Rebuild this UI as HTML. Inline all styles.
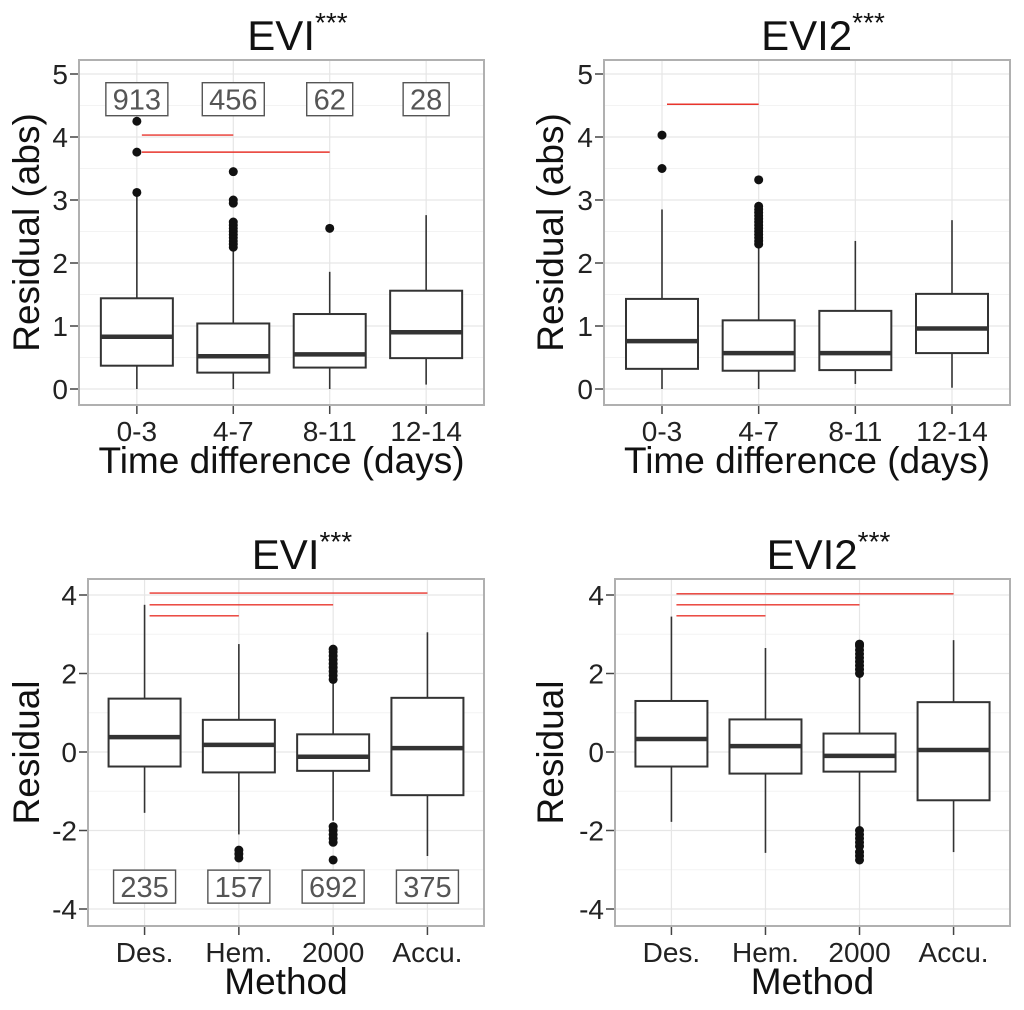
<!DOCTYPE html>
<html><head><meta charset="utf-8"><style>
html,body{margin:0;padding:0;background:#fff}
svg{display:block;font-family:"Liberation Sans",Arial,sans-serif}
</style></head><body>
<svg id="chart" width="1024" height="1010" viewBox="0 0 1024 1010" xmlns="http://www.w3.org/2000/svg"></svg>
<script>
// ---- data ----
const timeCats = ["0-3","4-7","8-11","12-14"];
const methodCats = ["Des.","Hem.","2000","Accu."];
// [low whisker, q1, median, q3, high whisker]
const tlStats = [[0,0.37,0.83,1.44,3.1],[0,0.26,0.52,1.04,2.2],[0,0.34,0.55,1.19,1.86],[0.07,0.49,0.9,1.56,2.76]];
const tlOut = [[3.12,3.76,4.25],[2.25,2.3,2.35,2.4,2.45,2.5,2.55,2.6,2.65,2.95,3.0,3.45],[2.55],[]];
const tlCounts = ["913","456","62","28"];
const trStats = [[0,0.32,0.76,1.43,2.85],[0,0.29,0.57,1.09,2.28],[0.08,0.3,0.57,1.24,2.35],[0.02,0.57,0.96,1.51,2.68]];
const trOut = [[3.5,4.03],[2.3,2.35,2.4,2.45,2.5,2.55,2.6,2.65,2.7,2.75,2.8,2.85,2.9,3.32],[],[]];
const blStats = [[-1.55,-0.37,0.38,1.36,3.75],[-2.1,-0.52,0.18,0.82,2.75],[-1.75,-0.48,-0.12,0.45,1.8],[-2.65,-1.1,0.1,1.38,3.05]];
const blOut = [[],[-2.5,-2.6,-2.7],[1.85,1.95,2.05,2.15,2.25,2.35,2.45,2.55,2.62,-1.9,-2.0,-2.1,-2.2,-2.3,-2.75],[]];
const blCounts = ["235","157","692","375"];
const brStats = [[-1.78,-0.37,0.33,1.3,3.45],[-2.57,-0.55,0.15,0.83,2.65],[-1.95,-0.5,-0.1,0.47,1.95],[-2.55,-1.23,0.05,1.27,2.85]];
const brOut = [[],[],[2.0,2.1,2.2,2.3,2.4,2.5,2.6,2.7,2.75,-2.0,-2.1,-2.2,-2.3,-2.4,-2.55,-2.65,-2.75],[]];
// significance lines: [from category, to category, y value]
const tlSig = [[0,1,4.03],[0,2,3.76]];
const trSig = [[0,1,4.52]];
const blSig = [[0,3,4.05],[0,2,3.75],[0,1,3.47]];
const brSig = [[0,3,4.03],[0,2,3.75],[0,1,3.47]];
const topTicks = [0,1,2,3,4,5];
const botTicks = [-4,-2,0,2,4];

const NS="http://www.w3.org/2000/svg";
const svg=document.getElementById('chart');
function el(tag,attrs,parent){const e=document.createElementNS(NS,tag);for(const k in attrs)e.setAttribute(k,attrs[k]);(parent||svg).appendChild(e);return e;}

function panel(cfg){
  const g=el('g',{});
  
  
  const {x0,x1,y0,y1,dmin,dmax,py0,pyMax}=cfg;
  const ys=v=>py0+(v-dmin)*(pyMax-py0)/(dmax-dmin);
  const n=cfg.cats.length, step=(x1-x0)/(n+0.2);
  const xs=i=>x0+step*(0.6+i);
  const tk=cfg.ticks;
  for(let i=0;i<tk.length-1;i++){const m=(tk[i]+tk[i+1])/2;el('line',{x1:x0,x2:x1,y1:ys(m),y2:ys(m),stroke:'#f3f3f3','stroke-width':1},g);}
  tk.forEach(t=>{
    const l=el('line',{x1:x0,x2:x1,y1:ys(t),y2:ys(t),stroke:'#e6e6e6','stroke-width':1.2},g);
    
    
    el('line',{x1:x0-9,x2:x0,y1:ys(t),y2:ys(t),stroke:'#444','stroke-width':1.5},g);
    const t2=el('text',{x:x0-11,y:ys(t)+10,'text-anchor':'end','font-size':28,fill:'#222'},g);t2.textContent=t;
    
    
  });
  cfg.cats.forEach((c,i)=>{
    el('line',{x1:xs(i),x2:xs(i),y1:y0,y2:y1,stroke:'#e6e6e6','stroke-width':1.2},g);
    el('line',{x1:xs(i),x2:xs(i),y1:y1,y2:y1+9,stroke:'#444','stroke-width':1.5},g);
    const t=el('text',{x:xs(i),y:y1+36,'text-anchor':'middle','font-size':28,fill:'#222'},g);t.textContent=c;
    
    
  });
  el('rect',{x:x0,y:y0,width:x1-x0,height:y1-y0,fill:'none',stroke:'#b0b0b0','stroke-width':2},g);
  const bw=72;
  cfg.stats.forEach((s,i)=>{
    const cx=xs(i);
    const bg=el('g',{},g);
    
    
    el('line',{x1:cx,x2:cx,y1:ys(s[0]),y2:ys(s[1]),stroke:'#333','stroke-width':1.6},bg);
    el('line',{x1:cx,x2:cx,y1:ys(s[3]),y2:ys(s[4]),stroke:'#333','stroke-width':1.6},bg);
    el('rect',{x:cx-bw/2,y:ys(s[3]),width:bw,height:ys(s[1])-ys(s[3]),fill:'#fff',stroke:'#333','stroke-width':2},bg);
    el('line',{x1:cx-bw/2,x2:cx+bw/2,y1:ys(s[2]),y2:ys(s[2]),stroke:'#333','stroke-width':4.5},bg);
    cfg.out[i].forEach(o=>{
      const c=el('circle',{cx:cx,cy:ys(o),r:4.5,fill:'#111'},bg);
      
      
    });
  });
  cfg.sig.forEach(sg=>{
    const l=el('line',{x1:xs(sg[0])+5,x2:xs(sg[1]),y1:ys(sg[2]),y2:ys(sg[2]),stroke:'#e8342c','stroke-width':1.4},g);
    
    
  });
  if(cfg.counts){
    cfg.counts.forEach((c,i)=>{
      const w=c.length*16+14, cy=ys(cfg.countY);
      const cg=el('g',{},g);
      
      
      el('rect',{x:xs(i)-w/2,y:cy-16.5,width:w,height:33,fill:'#fff',stroke:'#555','stroke-width':1.4},cg);
      const t=el('text',{x:xs(i),y:cy+10.5,'text-anchor':'middle','font-size':29,fill:'#555'},cg);t.textContent=c;
    });
  }
  const tt=el('text',{x:(x0+x1)/2+16,y:y0-10,'text-anchor':'middle','font-size':42,fill:'#111'},g);
  
  
  tt.appendChild(document.createTextNode(cfg.title));
  const sup=el('tspan',{'font-size':28,dy:-18},tt);sup.textContent='***';
  const yt=el('text',{transform:`translate(${cfg.ytX},${(y0+y1)/2}) rotate(-90)`,'text-anchor':'middle','font-size':37,fill:'#111'},g);
  yt.textContent=cfg.ytitle;
  
  
  const xt=el('text',{x:(x0+x1)/2,y:cfg.xtY,'text-anchor':'middle','font-size':37,fill:'#111'},g);
  xt.textContent=cfg.xtitle;
  
  
}
panel({name:'panel-evi-time',x0:79,x1:484,y0:60,y1:405,dmin:0,dmax:5,py0:389,pyMax:74,ticks:topTicks,cats:timeCats,stats:tlStats,out:tlOut,sig:tlSig,counts:tlCounts,countY:4.6,title:'EVI',ytitle:'Residual (abs)',xtitle:'Time difference (days)',ytX:39,xtY:473});
panel({name:'panel-evi2-time',x0:604,x1:1010,y0:60,y1:405,dmin:0,dmax:5,py0:389,pyMax:74,ticks:topTicks,cats:timeCats,stats:trStats,out:trOut,sig:trSig,title:'EVI2',ytitle:'Residual (abs)',xtitle:'Time difference (days)',ytX:563,xtY:473});
panel({name:'panel-evi-method',x0:88,x1:484,y0:579,y1:926,dmin:0,dmax:4,py0:752,pyMax:595,ticks:botTicks,cats:methodCats,stats:blStats,out:blOut,sig:blSig,counts:blCounts,countY:-3.43,title:'EVI',ytitle:'Residual',xtitle:'Method',ytX:39,xtY:994});
panel({name:'panel-evi2-method',x0:615,x1:1010,y0:579,y1:926,dmin:0,dmax:4,py0:752,pyMax:595,ticks:botTicks,cats:methodCats,stats:brStats,out:brOut,sig:brSig,title:'EVI2',ytitle:'Residual',xtitle:'Method',ytX:563,xtY:994});
</script>
</body></html>
